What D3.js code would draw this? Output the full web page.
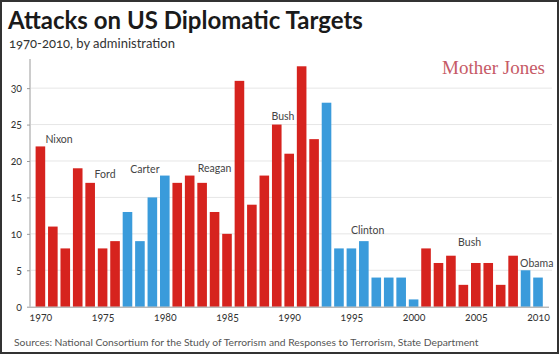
<!DOCTYPE html>
<html><head><meta charset="utf-8">
<script src="https://cdn.jsdelivr.net/npm/d3@7"></script>
<style>body{margin:0;background:#fff}svg{display:block}text{font-variant-numeric:oldstyle-nums}</style>
</head><body>
<script>
const years = d3.range(1970, 2011);
const attacks = [22,11,8,19,17,8,9,13,9,15,18,17,18,17,13,10,31,14,18,25,21,33,23,28,8,8,9,4,4,4,1,8,6,7,3,6,6,3,7,5,4];
const party = ["R","R","R","R","R","R","R","D","D","D","D","R","R","R","R","R","R","R","R","R","R","R","R","D","D","D","D","D","D","D","D","R","R","R","R","R","R","R","R","D","D"];
const presidents = ["Nixon","Ford","Carter","Reagan","Bush","Clinton","Bush","Obama"];
const presLabelYear = [1971.5,1975.2,1978.4,1984.0,1989.5,1996.3,2004.5,2009.9];
const presLabelValue = [22.5,17.7,18.4,18.5,25.6,10.0,8.3,5.5];
const yTicks = [0,5,10,15,20,25,30];
const xTicks = [1970,1975,1980,1985,1990,1995,2000,2005,2010];

const W = 560, H = 355;
const svg = d3.select("body").append("svg").attr("width", W).attr("height", H);
svg.append("rect").attr("x",1).attr("y",1).attr("width",W-3).attr("height",H-3)
  .attr("fill","#fff").attr("stroke","#333").attr("stroke-width",2);

const x = d3.scaleLinear().domain([1970, 2010]).range([40.4, 538]);
const bw = 9.6;
const y = d3.scaleLinear().domain([0, 34]).range([306.7, 59]);

// grid
svg.append("g").selectAll("line").data(yTicks.filter(d=>d>0)).join("line")
  .attr("x1",31).attr("x2",552).attr("y1",d=>y(d)).attr("y2",d=>y(d))
  .attr("stroke","#e6e6e6").attr("stroke-width",1);

// y axis
const yAxis = d3.axisLeft(y).tickValues(yTicks).tickSize(3).tickPadding(5);
const gy = svg.append("g").attr("transform","translate(30,0)").call(yAxis);
gy.select(".domain").attr("stroke","#9a9a9a").attr("d",`M0,${y(34)}V${y(0)}`);
gy.selectAll(".tick line").attr("stroke","#9a9a9a");
gy.selectAll("text").attr("font-family","Lato").attr("font-size",10.5).attr("fill","#333");

// bars
svg.append("g").selectAll("rect").data(years).join("rect")
  .attr("x",(d)=>x(d)-bw/2).attr("width",bw)
  .attr("y",(d,i)=>y(attacks[i])).attr("height",(d,i)=>y(0)-y(attacks[i]))
  .attr("fill",(d,i)=>party[i]==="R"?"#d6231e":"#3a9bdb");

// x axis
const xAxis = d3.axisBottom(x).tickValues(xTicks).tickFormat(d3.format("d")).tickSize(0).tickPadding(7);
const gx = svg.append("g").attr("transform",`translate(0,${y(0)})`).call(xAxis);
gx.select(".domain").attr("stroke","#9a9a9a").attr("d","M30,0.5H549");
gx.selectAll("text").attr("font-family","Lato").attr("font-size",10.5).attr("fill","#333");

// president labels
svg.append("g").selectAll("text").data(presidents).join("text")
  .attr("x",(d,i)=>x(presLabelYear[i])).attr("y",(d,i)=>y(presLabelValue[i]))
  .attr("text-anchor","middle").attr("font-family","Lato").attr("font-size",10.5).attr("fill","#444")
  .text(d=>d);

// titles
svg.append("text").attr("x",8).attr("y",29).attr("font-family","Lato").attr("font-weight","bold")
  .attr("font-size",24).attr("fill","#1a1a1a").text("Attacks on US Diplomatic Targets");
svg.append("text").attr("x",9).attr("y",48).attr("font-family","Lato")
  .attr("font-size",13).attr("fill","#333").text("1970-2010, by administration");
svg.append("text").attr("x",545).attr("y",74).attr("text-anchor","end").attr("font-family","Liberation Serif")
  .attr("font-size",19).attr("fill","#c65a66").text("Mother Jones");
svg.append("text").attr("x",14).attr("y",346).attr("font-family","Lato")
  .attr("font-size",10.3).attr("fill","#555")
  .text("Sources: National Consortium for the Study of Terrorism and Responses to Terrorism, State Department");
</script>
</body></html>
